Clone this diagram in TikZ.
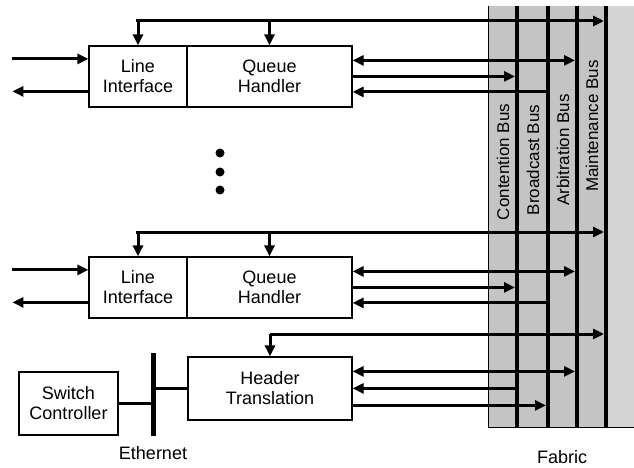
\documentclass[tikz,border=0pt]{standalone}
\usepackage{fontspec}
\setmainfont{Liberation Sans}
\usetikzlibrary{arrows.meta,calc}
\begin{document}
\begin{tikzpicture}[
		x=1pt,y=-1pt,
		>={Triangle[length=11pt,width=10pt]},
		every node/.style={font=\fontsize{18}{20}\selectfont},
		blok/.style={draw,line width=1.2pt,inner sep=0pt,
			align=center,minimum height=61},
		buslab/.style={rotate=90,font=\fontsize{17}{19}\selectfont},
		sig/.style={line width=3pt},
		bus/.style={line width=4pt}
	]
		\definecolor{FabricGrau}{RGB}{196,196,196}
		\definecolor{FabricRand}{RGB}{212,212,212}
		\useasboundingbox (0,0) rectangle (634,468);
		% fabric
		\fill[FabricGrau] (488,6) rectangle (606,427);
		\fill[FabricRand] (606,6) rectangle (634,427);
		\draw[line width=0.8pt] (488,6) -- (488,427) -- (634,427);
		\coordinate (con) at (517,6);
		\coordinate (brd) at (548,6);
		\coordinate (arb) at (577,6);
		\coordinate (mnt) at (606,6);
		\foreach \b in {con,brd,arb,mnt}
			\draw[bus] (\b) -- ++(0,421);
		\node[buslab] (conlab) at (503,162) {Contention Bus};
		\node[buslab] (brdlab) at (533,160) {Broadcast Bus};
		\node[buslab] (arblab) at (563,150) {Arbitration Bus};
		\node[buslab] (mntlab) at (592,126) {Maintenance Bus};
		% port modules
		\node[blok,minimum width=98] (li1) at (138,76.5)
			{Line\\Interface};
		\node[blok,minimum width=165] (qh1) at (269.5,76.5)
			{Queue\\Handler};
		\node[blok,minimum width=98] (li2) at (138,287.5)
			{Line\\Interface};
		\node[blok,minimum width=165] (qh2) at (269.5,287.5)
			{Queue\\Handler};
		\node[blok,minimum width=164,minimum height=63] (ht) at (270,388.5)
			{Header\\Translation};
		\node[blok,minimum width=99,minimum height=63] (sc) at (68.5,403.5)
			{Switch\\Controller};
		% dots
		\foreach \y in {153,172,190}
			\fill (220,\y) circle (4.5);
		% feedback from maintenance bus
		\coordinate (fb1) at (136,21);
		\coordinate (fb2) at (136,232);
		\coordinate (fb3) at (270,334);
		\foreach \f/\l/\q in {fb1/li1/qh1,fb2/li2/qh2} {
			\draw[sig,->,shorten >=2pt] (\f) -- (\f -| mnt);
			\draw[sig,->] (\f) -- (\f -| \l.north) -- (\l.north);
			\draw[sig,->] (\f -| \q.north) -- (\q.north);
		}
		\draw[sig,->,shorten >=2pt] (fb3) -- (fb3 -| mnt);
		\draw[sig,->] (fb3 -| ht.north) -- (ht.north);
		% queue handler links
		\foreach \q/\l in {qh1/li1,qh2/li2} {
			\coordinate (\q a) at ($(\q.north east)+(0,15)$);
			\coordinate (\q b) at ($(\q.north east)+(0,31)$);
			\coordinate (\q c) at ($(\q.north east)+(0,46.5)$);
			\draw[sig,<->,shorten >=2pt] (\q a) -- (\q a -| arb);
			\draw[sig,->,shorten >=2pt] (\q b) -- (\q b -| con);
			\draw[sig,<-] (\q c) -- (\q c -| brd);
			\coordinate (\l in) at ($(\l.north west)+(-76,13.5)$);
			\coordinate (\l out) at ($(\l.north west)+(-76,46)$);
			\draw[sig,->] (\l in) -- (\l in -| \l.west);
			\draw[sig,<-] (\l out) -- (\l out -| \l.west);
		}
		% header translation links
		\coordinate (hta) at ($(ht.north east)+(0,15)$);
		\coordinate (htb) at ($(ht.north east)+(0,32)$);
		\coordinate (htc) at ($(ht.north east)+(0,49)$);
		\draw[sig,<->,shorten >=2pt] (hta) -- (hta -| arb);
		\draw[sig,<-] (htb) -- (htb -| con);
		\draw[sig,->,shorten >=2pt] (htc) -- (htc -| brd);
		% ethernet
		\coordinate (ethtop) at (153,353);
		\coordinate (ethbot) at (153,436);
		\draw[line width=5pt] (ethtop) -- (ethbot);
		\draw[sig] (sc.east) -- (sc.east -| ethtop);
		\draw[sig] (ht.west) -- (ht.west -| ethtop);
		\node (ethlab) at (153,453) {Ethernet};
		\node (fablab) at (562,457) {Fabric};
	\end{tikzpicture}
\end{document}
